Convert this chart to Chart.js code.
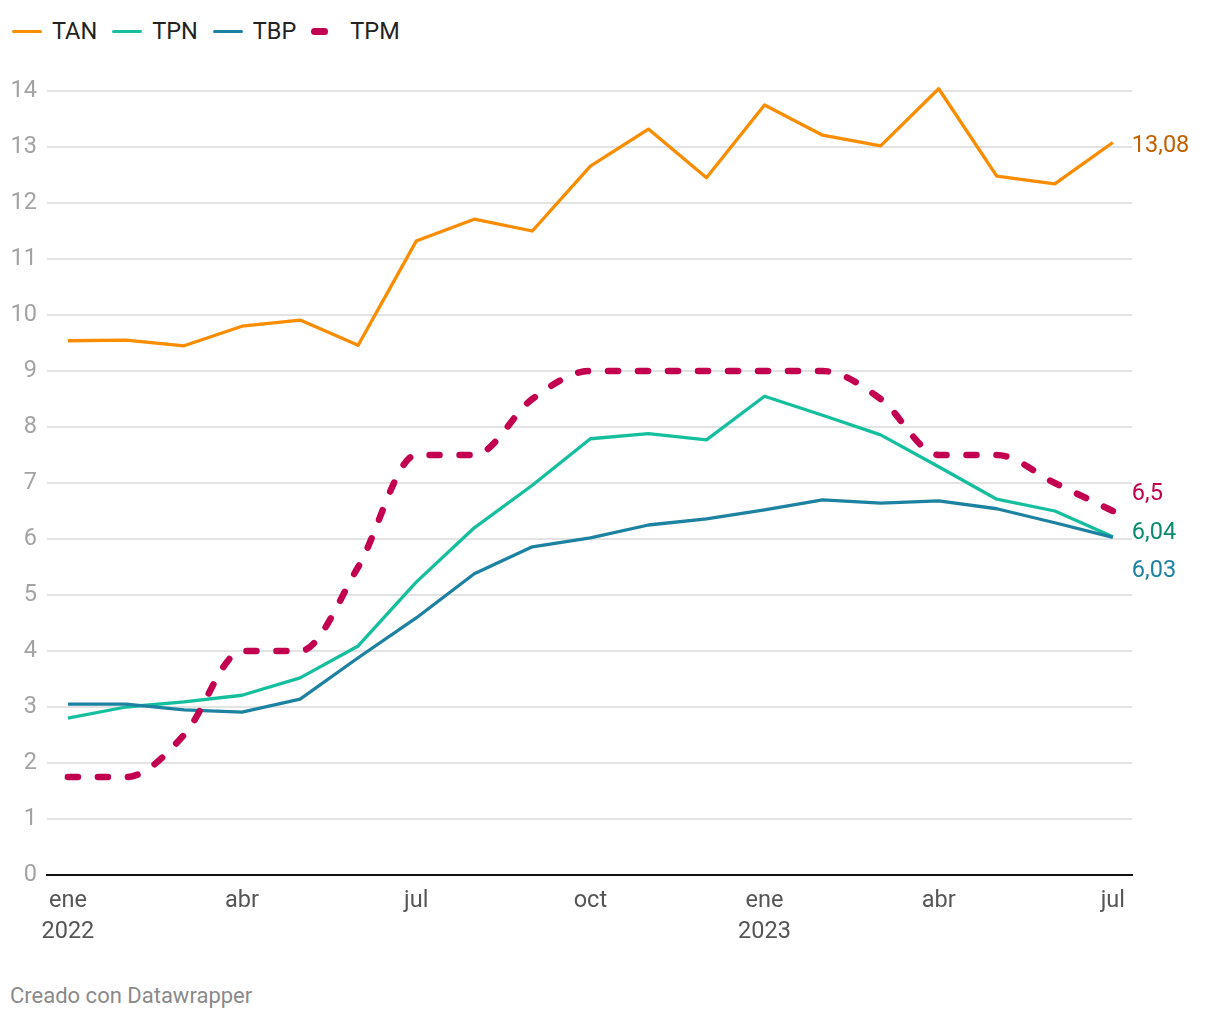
<!DOCTYPE html>
<html>
<head>
<meta charset="utf-8">
<script src="https://cdn.jsdelivr.net/npm/chart.js@4"></script>
<style>
  body { margin: 0; background: #fff; font-family: Roboto, sans-serif; }
  #wrap { position: relative; width: 1220px; height: 1020px; }
  #legend { position: absolute; left: 12px; top: 17px; display: flex; align-items: center; font-size: 23.5px; color: #222; }
  #legend .item { display: flex; align-items: center; margin-right: 15px; }
  #legend .mark { display: inline-block; width: 30px; height: 3px; border-radius: 2px; margin-right: 10px; }
  #legend .dash { width: 17px; height: 7px; border-radius: 4px; margin-right: 22px; }
  #footer { position: absolute; left: 10px; top: 983px; font-size: 22px; color: #8a8a8a; }
  canvas { position: absolute; left: 0; top: 0; }
</style>
</head>
<body>
<div id="wrap">
  <div id="legend">
    <div class="item"><span class="mark" style="background:#fa8c00"></span>TAN</div>
    <div class="item"><span class="mark" style="background:#15bf9d"></span>TPN</div>
    <div class="item"><span class="mark" style="background:#1d81a2"></span>TBP</div>
    <div class="item"><span class="mark dash" style="background:#c2004f"></span>TPM</div>
  </div>
  <canvas id="chart" width="1220" height="960"></canvas>
  <div id="footer">Creado con Datawrapper</div>
</div>
<script>
const months = ['2022-01','2022-02','2022-03','2022-04','2022-05','2022-06','2022-07','2022-08','2022-09','2022-10','2022-11','2022-12',
                '2023-01','2023-02','2023-03','2023-04','2023-05','2023-06','2023-07'];
const tan = [9.54,9.55,9.45,9.80,9.91,9.46,11.32,11.71,11.50,12.66,13.32,12.45,13.75,13.21,13.02,14.04,12.48,12.34,13.08];
const tpn = [2.80,3.00,3.09,3.21,3.52,4.09,5.23,6.20,6.96,7.79,7.88,7.77,8.55,8.21,7.86,7.29,6.71,6.50,6.04];
const tbp = [3.05,3.05,2.95,2.91,3.14,3.88,4.59,5.38,5.86,6.02,6.25,6.36,6.52,6.70,6.64,6.68,6.54,6.29,6.03];
const tpm = [1.75,1.75,2.5,4,4,5.5,7.5,7.5,8.5,9,9,9,9,9,8.5,7.5,7.5,7,6.5];
const xTickPos = [0,3,6,9,12,15,18];
const xTickLabels = [['ene','2022'],'abr','jul','oct',['ene','2023'],'abr','jul'];
const endLabels = ['13,08','6,04','6,03','6,5'];

const pts = arr => arr.map((v,i) => ({x: i, y: v}));

// end value labels at the right of the last point
const endLabelPlugin = {
  id: 'endLabels',
  afterDatasetsDraw(chart) {
    const ctx = chart.ctx;
    const xs = chart.scales.x, ys = chart.scales.y;
    const cols = ['#c26100','#0a8a6e','#1d81a2','#c2004f'];
    const shift = [4,-4,34,-17];
    ctx.save();
    ctx.font = '23.5px Roboto';
    ctx.textBaseline = 'middle';
    chart.data.datasets.forEach((ds,i) => {
      const last = ds.data[ds.data.length-1];
      ctx.fillStyle = cols[i];
      ctx.fillText(endLabels[i], xs.getPixelForValue(last.x) + 19, ys.getPixelForValue(last.y) + shift[i]);
    });
    ctx.restore();
  }
};

new Chart(document.getElementById('chart'), {
  type: 'line',
  data: {
    datasets: [
      {label:'TAN', data: pts(tan), borderColor:'#fa8c00', borderWidth:3.3, order:3},
      {label:'TPN', data: pts(tpn), borderColor:'#15bf9d', borderWidth:3.3, order:2},
      {label:'TBP', data: pts(tbp), borderColor:'#1d81a2', borderWidth:3.3, order:1},
      {label:'TPM', data: pts(tpm), borderColor:'#c2004f', borderWidth:6.5, borderDash:[10,20],
       borderCapStyle:'round', cubicInterpolationMode:'monotone', order:0}
    ]
  },
  plugins: [endLabelPlugin],
  options: {
    responsive: false,
    animation: false,
    clip: false,
    layout: { padding: { top: 91, right: 88, left: 0, bottom: 0 } },
    elements: { point: { radius: 0 }, line: { borderJoinStyle: 'round' } },
    plugins: { legend: { display: false }, tooltip: { enabled: false } },
    scales: {
      x: {
        type: 'linear', min: -0.36, max: 18.33,
        afterBuildTicks: s => { s.ticks = xTickPos.map(v => ({value: v})); },
        afterFit: s => { s.height = 85; },
        grid: { display: false, drawTicks: false },
        border: { display: true, color: '#111', width: 2 },
        ticks: {
          padding: 11,
          autoSkip: false, maxRotation: 0,
          color: '#555',
          font: { family: 'Roboto', size: 23.5, lineHeight: 1.3 },
          callback: (v) => xTickLabels[xTickPos.indexOf(v)]
        }
      },
      y: {
        min: 0, max: 14,
        afterFit: s => { s.width = 47; },
        grid: { color: c => c.tick.value === 0 ? 'rgba(0,0,0,0)' : '#e3e3e3', lineWidth: 2, drawTicks: false },
        border: { display: false },
        ticks: {
          stepSize: 1, padding: 10,
          color: '#a3a3a3',
          font: { family: 'Roboto', size: 23.5 }
        }
      }
    }
  }
});
</script>
</body>
</html>
